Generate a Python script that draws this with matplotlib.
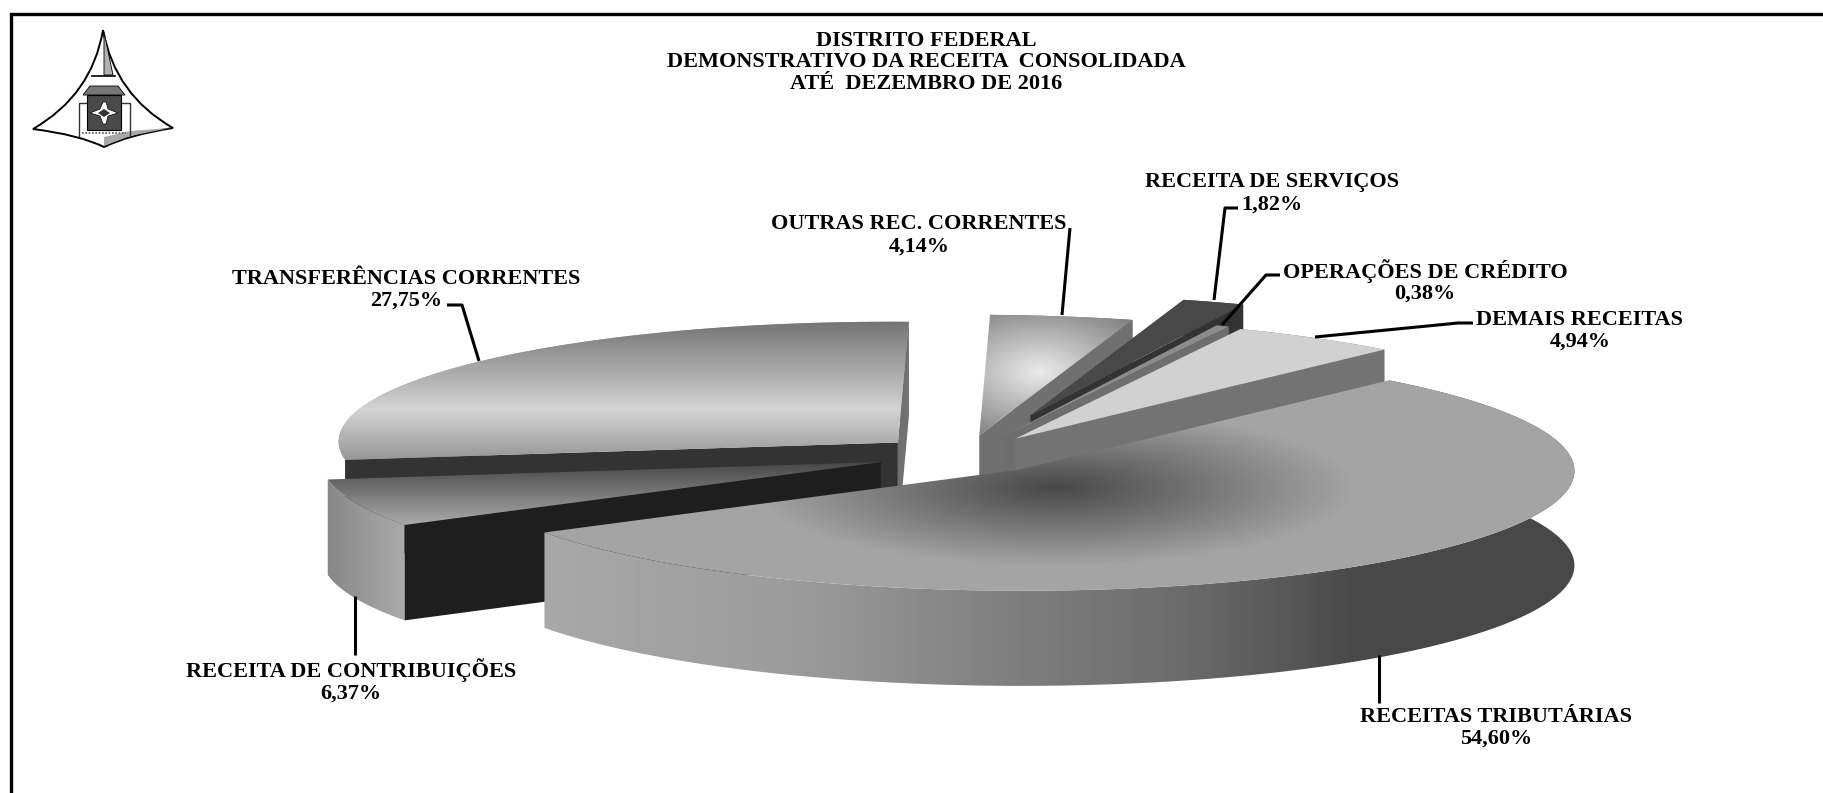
import numpy as np
import matplotlib
matplotlib.use("Agg")
import matplotlib.pyplot as plt
from matplotlib.patches import Polygon, PathPatch
from matplotlib.path import Path

categories = ["RECEITAS TRIBUTÁRIAS", "RECEITA DE CONTRIBUIÇÕES", "TRANSFERÊNCIAS CORRENTES",
              "OUTRAS REC. CORRENTES", "RECEITA DE SERVIÇOS", "OPERAÇÕES DE CRÉDITO", "DEMAIS RECEITAS"]
values = [54.60, 6.37, 27.75, 4.14, 1.82, 0.38, 4.94]
value_labels = ["54,60%", "6,37%", "27,75%", "4,14%", "1,82%", "0,38%", "4,94%"]
title_lines = ["DISTRITO FEDERAL", "DEMONSTRATIVO DA RECEITA  CONSOLIDADA", "ATÉ  DEZEMBRO DE 2016"]
explode = [0.1519, 0.1617, 0.1609, 0.1674, 0.3538, 0.1730, 0.1657]

# perspective view of the pie plane, and the thickness of the pie
CAMERA = (560.2702, -1.0761, 965.3706, 2.1246, -120.1590, 455.4138, 3.4932, 1.6719)
HEIGHT = 95.0
START_ANGLE = np.radians(48.0)

frac = np.array(values) / sum(values)
edges = START_ANGLE - 2 * np.pi * np.concatenate([[0], np.cumsum(frac)])
mids = 0.5 * (edges[:-1] + edges[1:])


def project(X, Y):
    a, b, c, d, e, f, g, i = CAMERA
    w = 1 + g * X / 1000 + i * Y / 1000
    return (a * X + b * Y + c) / w, (d * X + e * Y + f) / w, w


def stops_x(pts, vals):
    return lambda x, y: np.interp(x, pts, vals)


def stops_y(pts, vals):
    return lambda x, y: np.interp(y, pts, vals)


def const(v):
    return lambda x, y: np.full_like(x, float(v), dtype=float)


def radial(fx, fy, sx, sy, dark, light):
    def f(x, y):
        d = np.minimum(1, np.sqrt(((x - fx) / sx) ** 2 + ((y - fy) / sy) ** 2))
        return dark + (light - dark) * d
    return f


fig = plt.figure(figsize=(18.24, 7.93), dpi=100)
ax = fig.add_axes([0, 0, 1, 1])
ax.set_xlim(0, 1824)
ax.set_ylim(793, 0)
ax.axis("off")

Z = [10]


def shade(poly, fn):
    poly = np.asarray(poly)
    x0, x1 = int(poly[:, 0].min()) - 1, int(poly[:, 0].max()) + 2
    y0, y1 = int(poly[:, 1].min()) - 1, int(poly[:, 1].max()) + 2
    gx, gy = np.meshgrid(np.arange(x0, x1) + .5, np.arange(y0, y1) + .5)
    Z[0] += 1
    im = ax.imshow(fn(gx, gy), extent=(x0, x1, y1, y0), cmap="gray", vmin=0, vmax=255,
                   zorder=Z[0], interpolation="bilinear", aspect="auto")
    clip = Polygon(poly, closed=True, transform=ax.transData, fc="none", ec="none")
    ax.add_patch(clip)
    im.set_clip_path(clip)


def faces_viewer(ax0, ay0, cx, cy, mx, my):
    # a radial wall shows when the slice's top lies above that edge on screen
    if abs(cx - ax0) < 1e-6:
        return True
    return my < ay0 + (cy - ay0) * (mx - ax0) / (cx - ax0)


top_shade = {0: radial(1055, 488, 300, 78, 72, 164),
             1: stops_y([463, 525], [72, 170]),
             2: stops_y([322, 410, 460], [116, 212, 150]),
             3: radial(1040, 372, 130, 75, 235, 125),
             4: const(72), 5: const(140), 6: const(210)}
outer_shade = {0: stops_x([545, 800, 1000, 1164, 1300, 1360, 1578], [168, 155, 128, 110, 85, 72, 72]),
               1: stops_x([329, 360, 404], [135, 150, 170]),
               2: const(165), 3: const(112), 4: const(60), 5: const(110), 6: const(115)}
start_shade = {1: const(30), 2: const(51)}
end_shade = {2: const(112), 3: const(112), 4: const(51), 5: const(110), 6: const(115)}
order = [2, 3, 4, 5, 6, 1, 0]

for k in order:
    t = np.linspace(edges[k], edges[k + 1], 300)
    ox, oy = explode[k] * np.cos(mids[k]), explode[k] * np.sin(mids[k])
    x, y, w = project(ox + np.cos(t), oy + np.sin(t))
    ax0, ay0, w0 = project(ox, oy)
    h = HEIGHT / w
    h0 = HEIGHT / w0
    shade(np.vstack([np.c_[x, y], np.c_[x, y + h][::-1]]), outer_shade[k])
    for j, table in ((0, start_shade), (-1, end_shade)):
        if k in table and faces_viewer(ax0, ay0, x[j], y[j], x[150], y[150]):
            shade([(ax0, ay0), (x[j], y[j]), (x[j], y[j] + h[j]), (ax0, ay0 + h0)], table[k])
    shade(np.vstack([[(ax0, ay0)], np.c_[x, y]]), top_shade[k])

# frame: left and top rules only
ax.plot([11.5, 11.5, 1824], [793, 13.5, 13.5], color="black", lw=2.4, zorder=50, solid_joinstyle="miter")

# leaders
leaders = [([1379, 1379], [655, 703]), ([355, 355], [596, 655]), ([447, 462, 479], [305, 305, 361]),
           ([1070, 1062], [228, 315]), ([1238, 1225, 1214], [208, 208, 300]), ([1280, 1266, 1222], [275, 275, 325]),
           ([1473, 1458, 1315], [323, 323, 337])]
for lx, ly in leaders:
    ax.plot(lx, ly, color="black", lw=2.2, zorder=60, solid_capstyle="butt")

font = dict(family="Liberation Serif", weight="bold", color="black", ha="center", va="center", fontsize=16)
for s, yy in zip(title_lines, (41, 62, 84)):
    ax.text(926, yy, s, zorder=70, **font)
label_pos = [(1496, 717, 739), (351, 670, 694), (406, 279, 301), (919, 224, 247), (1272, 182, 205), (1425, 271, 294), (1580, 320, 342)]
for k, (lx, y1, y2) in enumerate(label_pos):
    ax.text(lx, y1, categories[k], zorder=70, **font)
    ax.text(lx, y2, value_labels[k], zorder=70, **font)

# emblem
C3 = Path.CURVE3
outline = Path([(103, 30), (92, 95), (33, 129), (80, 135), (104, 147), (128, 135), (173, 128), (115, 95), (103, 30)],
               [Path.MOVETO, C3, C3, C3, C3, C3, C3, C3, C3])
ax.add_patch(PathPatch(outline, fc="white", ec="black", lw=1.4, zorder=80))
ax.add_patch(Polygon([(104, 32), (113, 75), (104, 75)], fc="#b0b0b0", ec="black", lw=.6, zorder=81))
ax.add_patch(Polygon([(130, 131), (170, 128), (130, 136), (104, 146), (104, 137)], fc="#a8a8a8", ec="none", zorder=81))
ax.plot([79, 79, 130, 130], [136, 103, 103, 136], color="#333333", lw=1, zorder=82)
ax.plot([92, 115], [76, 76], color="black", lw=1.2, zorder=82)
ax.add_patch(Polygon([(90, 86), (118, 86), (125, 95), (83, 95)], fc="#777777", ec="black", lw=.6, zorder=82))
ax.add_patch(Polygon([(87, 95), (121, 95), (121, 130), (87, 130)], fc="#4a4a4a", ec="black", lw=.8, zorder=83))
ax.add_patch(Polygon([(90, 113), (100, 109), (103, 102), (106, 102), (108, 109), (118, 113), (108, 116), (106, 124), (103, 124), (100, 116)],
                     fc="white", ec="black", lw=.5, zorder=84))
ax.add_patch(Polygon([(98, 113), (104, 109), (110, 113), (104, 117)], fc="#333333", ec="none", zorder=85))
ax.plot([82, 126], [133, 133], color="#555555", lw=1.2, ls=(0, (1, 1)), zorder=85)

fig.savefig("out.png", dpi=100)
